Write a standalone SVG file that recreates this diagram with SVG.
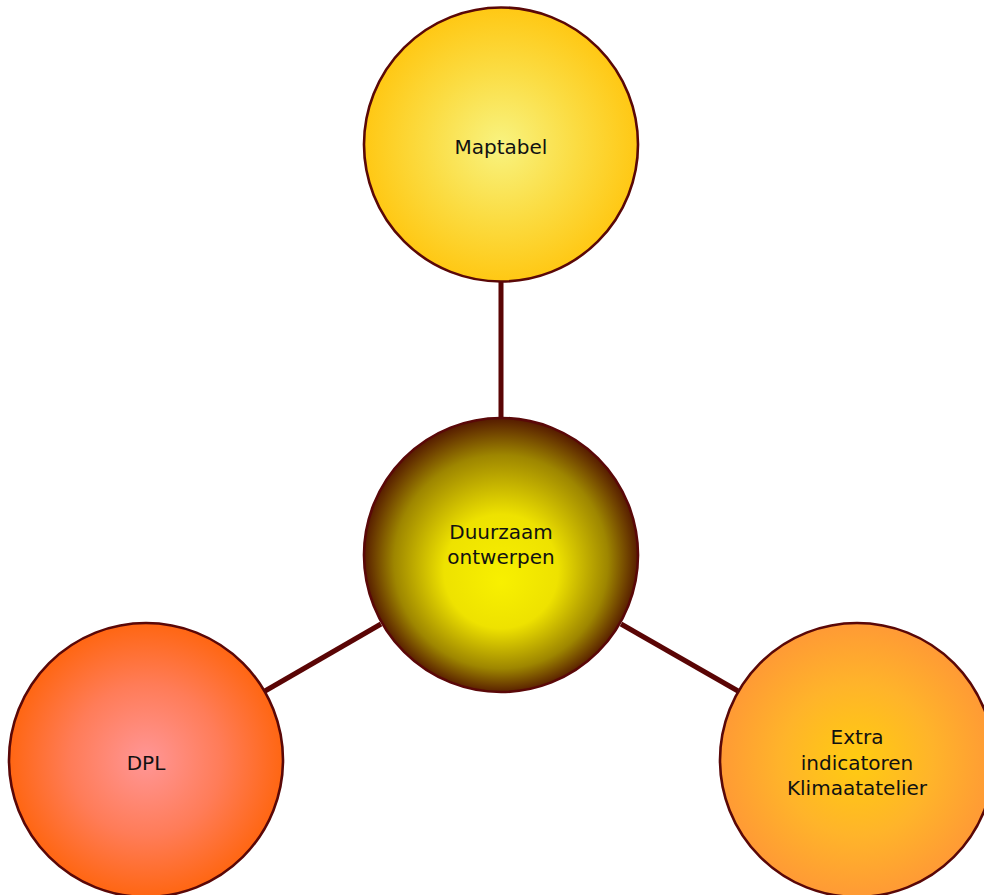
<svg xmlns="http://www.w3.org/2000/svg" width="984" height="895" viewBox="0 0 984 895">
<defs>
<radialGradient id="gMap" cx="50%" cy="50%" r="50%">
<stop offset="0" stop-color="#f8f380"/>
<stop offset="0.55" stop-color="#fbdc42"/>
<stop offset="1" stop-color="#ffc814"/>
</radialGradient>
<radialGradient id="gCen" cx="50%" cy="50%" r="52%" fx="50%" fy="60%">
<stop offset="0" stop-color="#f8f000"/>
<stop offset="0.4" stop-color="#eee200"/>
<stop offset="0.75" stop-color="#9e8600"/>
<stop offset="1" stop-color="#4a0a00"/>
</radialGradient>
<radialGradient id="gDpl" cx="50%" cy="50%" r="50%">
<stop offset="0" stop-color="#ff9696"/>
<stop offset="0.55" stop-color="#ff7c58"/>
<stop offset="1" stop-color="#ff6612"/>
</radialGradient>
<radialGradient id="gExt" cx="50%" cy="50%" r="50%">
<stop offset="0" stop-color="#ffcc10"/>
<stop offset="0.55" stop-color="#ffb42a"/>
<stop offset="1" stop-color="#ff9a35"/>
</radialGradient>
</defs>
<style>
.node{stroke:#5a0808;stroke-width:2.6}
.conn line{stroke:#5a0505;stroke-width:5}
text{font-family:"DejaVu Sans","Liberation Sans",sans-serif;font-size:20px;fill:#111;text-anchor:middle}
</style>
<rect width="984" height="895" fill="#fff"/>
<g class="conn" id="connectors">
<line x1="501" y1="282" x2="501" y2="418"/>
<line x1="381" y1="624" x2="265" y2="691"/>
<line x1="621" y1="624" x2="738" y2="691"/>
</g>
<g id="maptabel">
<circle class="node" cx="501" cy="144.5" r="137" fill="url(#gMap)"/>
<text x="501" y="154">Maptabel</text>
</g>
<g id="duurzaam">
<circle class="node" cx="501" cy="555" r="137" fill="url(#gCen)"/>
<text x="501" y="539">Duurzaam</text>
<text x="501" y="564">ontwerpen</text>
</g>
<g id="dpl">
<circle class="node" cx="146" cy="760" r="137" fill="url(#gDpl)"/>
<text x="146" y="770">DPL</text>
</g>
<g id="extra">
<circle class="node" cx="857" cy="760" r="137" fill="url(#gExt)"/>
<text x="857" y="744">Extra</text>
<text x="857" y="770">indicatoren</text>
<text x="857" y="795">Klimaatatelier</text>
</g>
</svg>
